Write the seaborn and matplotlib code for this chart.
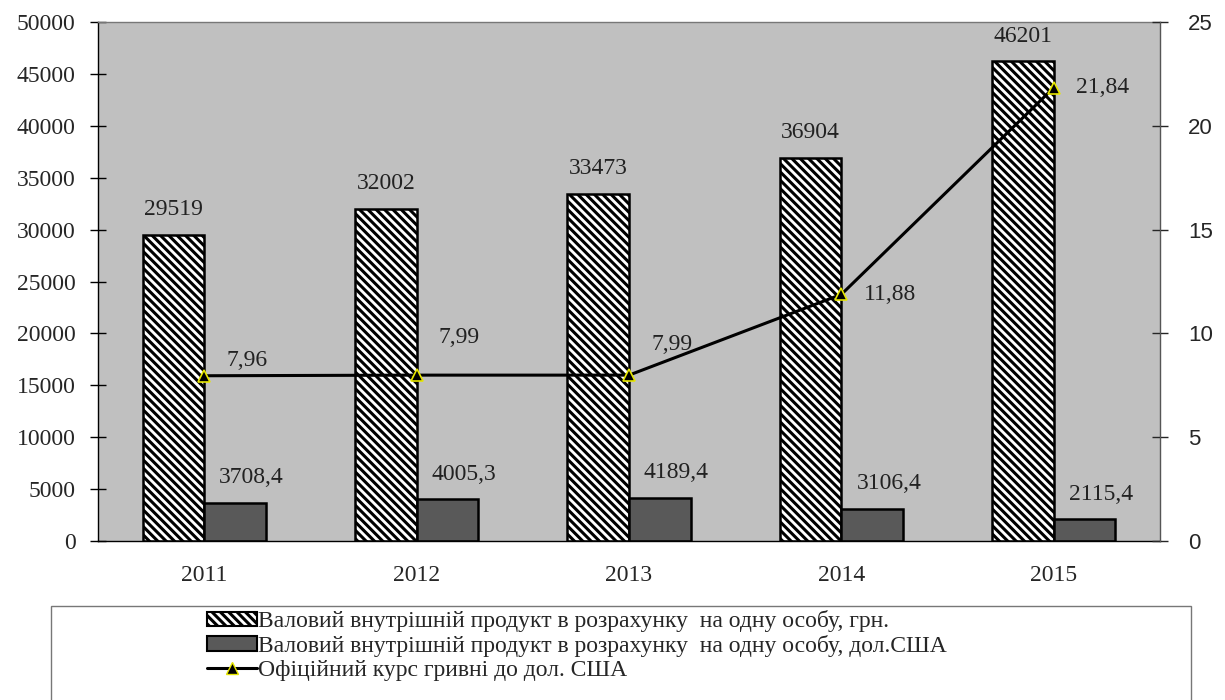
import matplotlib
matplotlib.use("Agg")
import matplotlib.pyplot as plt
import matplotlib.patches as mpatches
from matplotlib.lines import Line2D
import seaborn as sns
import pandas as pd
import numpy as np

# data
years = ["2011", "2012", "2013", "2014", "2015"]
gdp_uah = [29519, 32002, 33473, 36904, 46201]
gdp_usd = [3708.4, 4005.3, 4189.4, 3106.4, 2115.4]
rate = [7.96, 7.99, 7.99, 11.88, 21.84]

lab_uah = "Валовий внутрішній продукт в розрахунку  на одну особу, грн."
lab_usd = "Валовий внутрішній продукт в розрахунку  на одну особу, дол.США"
lab_rate = "Офіційний курс гривні до дол. США"

# vertical offsets (pt) for the rate labels
rate_dy = [11, 27, 22, 0, 0]

sns.set_style("white")
plt.rcParams["font.family"] = ["Liberation Serif", "DejaVu Serif"]
plt.rcParams["hatch.linewidth"] = 2.2

FS = 17

df = pd.DataFrame({
    "year": years * 2,
    "value": gdp_uah + gdp_usd,
    "series": [lab_uah] * len(years) + [lab_usd] * len(years),
})

fig = plt.figure(figsize=(12.25, 7), dpi=100)
ax = fig.add_axes([98 / 1225, 1 - 541 / 700, (1160 - 98) / 1225, (541 - 22) / 700])
ax.set_facecolor("#c0c0c0")

sns.barplot(data=df, x="year", y="value", hue="series", order=years,
            hue_order=[lab_uah, lab_usd],
            palette={lab_uah: "white", lab_usd: "#595959"},
            width=0.58, edgecolor="black", linewidth=1.8, legend=False, ax=ax)

for bar in ax.containers[0]:
    bar.set_hatch("\\\\\\\\")

for bar, v in zip(ax.containers[0], gdp_uah):
    ax.annotate(f"{v}", (bar.get_x() + bar.get_width() / 2, bar.get_height()),
                xytext=(0, 18), textcoords="offset points",
                ha="center", va="center", fontsize=FS, color="#222222")
for bar, v in zip(ax.containers[1], gdp_usd):
    ax.annotate(f"{v:.1f}".replace(".", ","),
                (bar.get_x() + bar.get_width() / 2, bar.get_height()),
                xytext=(12, 18), textcoords="offset points",
                ha="center", va="center", fontsize=FS, color="#222222")

ax.set_xlim(-0.5, len(years) - 0.5)
ax.set_ylim(0, 50000)
ax.set_yticks(np.arange(0, 50001, 5000))
ax.set_xlabel("")
ax.set_ylabel("")
ax.set_xticks(range(len(years)))
ax.set_xticklabels(years)
ax.set_xticks(np.arange(-0.5, len(years), 1), minor=True)
ax.tick_params(axis="x", which="major", length=0, pad=17, labelsize=FS)
ax.tick_params(axis="x", which="minor", length=12, direction="inout", width=1, color="black")
ax.tick_params(axis="y", length=12, direction="inout", width=1, labelsize=FS, pad=10,
               color="black")
for s in ax.spines.values():
    s.set_color("#777777")
    s.set_linewidth(1)
ax.spines["left"].set_color("black")
ax.spines["bottom"].set_color("black")

ax2 = ax.twinx()
line_df = pd.DataFrame({"pos": range(len(years)), "rate": rate})
sns.lineplot(data=line_df, x="pos", y="rate", color="black", linewidth=2.2,
             marker="^", markersize=9, markerfacecolor="black",
             markeredgecolor="#e6e600", markeredgewidth=1.2, ax=ax2)
for i, (v, dy) in enumerate(zip(rate, rate_dy)):
    ax2.annotate(f"{v:.2f}".replace(".", ","), (i, v), xytext=(16, dy),
                 textcoords="offset points", ha="left", va="center",
                 fontsize=FS, color="#222222")
ax2.set_ylim(0, 25)
ax2.set_yticks(np.arange(0, 26, 5))
ax2.set_ylabel("")
ax2.set_xlabel("")
ax2.tick_params(axis="y", length=12, direction="inout", width=1, pad=14)
for t in ax2.get_yticklabels():
    t.set_fontfamily("Liberation Sans")
    t.set_fontsize(16)
for s in ax2.spines.values():
    s.set_visible(False)
ax2.spines["right"].set_visible(True)
ax2.spines["right"].set_color("#555555")

# legend box below the chart
fig.patches.append(mpatches.Rectangle((51 / 1225, -0.01), 1140 / 1225, (700 - 606) / 700 + 0.01,
                                      transform=fig.transFigure, facecolor="white",
                                      edgecolor="#777777", linewidth=1))
handles = [
    mpatches.Patch(facecolor="white", edgecolor="black", hatch="\\\\\\\\", linewidth=1.5),
    mpatches.Patch(facecolor="#595959", edgecolor="black", linewidth=1.5),
    Line2D([0], [0], color="black", linewidth=2.2, marker="^", markersize=9,
           markerfacecolor="black", markeredgecolor="#e6e600"),
]
fig.legend(handles, [lab_uah, lab_usd, lab_rate], loc="upper left",
           bbox_to_anchor=(207 / 1225, 1 - 610 / 700), frameon=False,
           fontsize=FS, handlelength=2.1, handleheight=0.55, handletextpad=0.05,
           labelspacing=0.12, borderpad=0, borderaxespad=0)

fig.savefig("out.png", dpi=100)
